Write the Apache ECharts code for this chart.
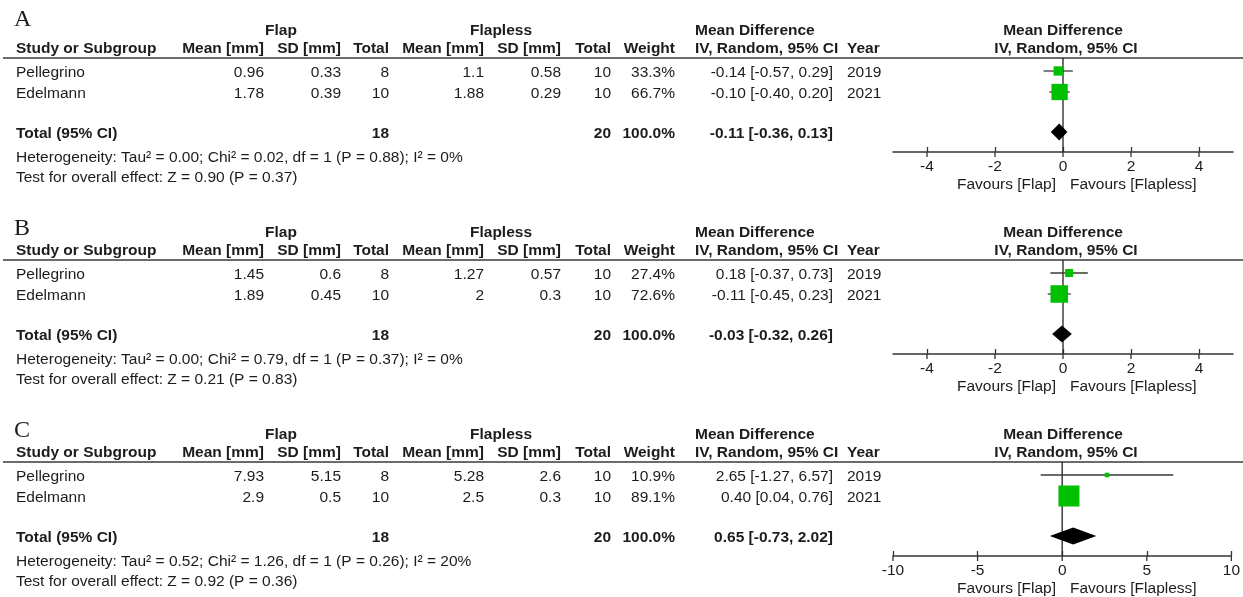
<!DOCTYPE html>
<html>
<head>
<meta charset="utf-8">
<script src="https://cdn.jsdelivr.net/npm/echarts@6/dist/echarts.min.js"></script>
<style>
  html, body { margin: 0; padding: 0; background: #fff; }
  #chart { width: 1243px; height: 597px; }
</style>
</head>
<body>
<div id="chart"></div>
<script>
// ---- Study data (three outcomes: A, B, C) ----
const studies = ['Pellegrino', 'Edelmann'];
const years = ['2019', '2021'];
const nFlap = [8, 10];
const nFlapless = [10, 10];

const meanFlapA = [0.96, 1.78];
const sdFlapA = [0.33, 0.39];
const meanFlaplessA = [1.1, 1.88];
const sdFlaplessA = [0.58, 0.29];
const weightA = [33.3, 66.7];
const mdA = [-0.14, -0.10];
const lowA = [-0.57, -0.40];
const highA = [0.29, 0.20];
const totalA = [-0.11, -0.36, 0.13];
const hetA = 'Heterogeneity: Tau² = 0.00; Chi² = 0.02, df = 1 (P = 0.88); I² = 0%';
const testA = 'Test for overall effect: Z = 0.90 (P = 0.37)';

const meanFlapB = [1.45, 1.89];
const sdFlapB = [0.6, 0.45];
const meanFlaplessB = [1.27, 2];
const sdFlaplessB = [0.57, 0.3];
const weightB = [27.4, 72.6];
const mdB = [0.18, -0.11];
const lowB = [-0.37, -0.45];
const highB = [0.73, 0.23];
const totalB = [-0.03, -0.32, 0.26];
const hetB = 'Heterogeneity: Tau² = 0.00; Chi² = 0.79, df = 1 (P = 0.37); I² = 0%';
const testB = 'Test for overall effect: Z = 0.21 (P = 0.83)';

const meanFlapC = [7.93, 2.9];
const sdFlapC = [5.15, 0.5];
const meanFlaplessC = [5.28, 2.5];
const sdFlaplessC = [2.6, 0.3];
const weightC = [10.9, 89.1];
const mdC = [2.65, 0.40];
const lowC = [-1.27, 0.04];
const highC = [6.57, 0.76];
const totalC = [0.65, -0.73, 2.02];
const hetC = 'Heterogeneity: Tau² = 0.52; Chi² = 1.26, df = 1 (P = 0.26); I² = 20%';
const testC = 'Test for overall effect: Z = 0.92 (P = 0.36)';

// Forest axis ranges and tick labels
const axisRangeA = [-5, 5];
const axisRangeB = [-5, 5];
const axisRangeC = [-10, 10];
const ticksA = [-4, -2, 0, 2, 4];
const ticksB = [-4, -2, 0, 2, 4];
const ticksC = [-10, -5, 0, 5, 10];

const panelLetters = ['A', 'B', 'C'];

const panels = [
  { meanFlap: meanFlapA, sdFlap: sdFlapA, meanFlapless: meanFlaplessA, sdFlapless: sdFlaplessA,
    weight: weightA, md: mdA, low: lowA, high: highA, total: totalA, het: hetA, test: testA,
    range: axisRangeA, ticks: ticksA },
  { meanFlap: meanFlapB, sdFlap: sdFlapB, meanFlapless: meanFlaplessB, sdFlapless: sdFlaplessB,
    weight: weightB, md: mdB, low: lowB, high: highB, total: totalB, het: hetB, test: testB,
    range: axisRangeB, ticks: ticksB },
  { meanFlap: meanFlapC, sdFlap: sdFlapC, meanFlapless: meanFlaplessC, sdFlapless: sdFlaplessC,
    weight: weightC, md: mdC, low: lowC, high: highC, total: totalC, het: hetC, test: testC,
    range: axisRangeC, ticks: ticksC }
];

// ---- Layout ----
const FONT = '"Liberation Sans", Arial, sans-serif';
const SERIF = '"Liberation Serif", "Times New Roman", serif';
const FS = 15.5;
const INK = '#1c1c1c';
const PANEL_STEP = 202;
const TEXT_DY = 1;          // baseline nudge for table text
const LETTER_Y = [20, 229, 431];

const col = {
  study: 16, flapMean: 264, flapSd: 341, flapN: 389,
  lessMean: 484, lessSd: 561, lessN: 611, weight: 675,
  ci: 833, year: 847, mdHead: 695, flapHead: 281, lessHead: 501
};
const plot = { left: 893, width: 340, zero: 1063 };
const ROW_PX = 21;          // vertical spacing between study rows
const GRID_TOP = 58;        // header rule
const GRID_H = 94;          // rule to forest axis
const FIRST_ROW_OFF = 13;   // first study row below the rule
const TOTAL_ROW = 2.905;    // pooled row, in row units
const Y_MIN = -FIRST_ROW_OFF / ROW_PX;
const Y_MAX = Y_MIN + GRID_H / ROW_PX;

function txt(x, y, s, o) {
  o = o || {};
  return {
    type: 'text', x: x, y: y + (o.noNudge ? 0 : TEXT_DY), silent: true,
    style: {
      text: s, fill: INK,
      fontFamily: o.family || FONT,
      fontSize: o.size || FS,
      fontWeight: o.bold ? 'bold' : 'normal',
      align: o.align || 'left',
      verticalAlign: 'middle'
    }
  };
}

const fmt2 = v => v.toFixed(2);
const ciText = (m, l, h) => fmt2(m) + ' [' + fmt2(l) + ', ' + fmt2(h) + ']';
const sum = a => a.reduce((s, v) => s + v, 0);

const graphics = [];
const grids = [], xAxes = [], yAxes = [], series = [];

panels.forEach((p, k) => {
  const off = k * PANEL_STEP;
  // panel letter
  graphics.push(txt(14, LETTER_Y[k], panelLetters[k], { family: SERIF, size: 24, noNudge: true }));
  // headers
  const h1 = 30 + off, h2 = 49 + off;
  const H2 = { bold: true, noNudge: true };
  graphics.push(txt(col.flapHead, h1, 'Flap', { bold: true, align: 'center' }));
  graphics.push(txt(col.lessHead, h1, 'Flapless', { bold: true, align: 'center' }));
  graphics.push(txt(col.mdHead, h1, 'Mean Difference', { bold: true }));
  graphics.push(txt(plot.zero, h1, 'Mean Difference', { bold: true, align: 'center' }));
  graphics.push(txt(col.study, h2, 'Study or Subgroup', H2));
  graphics.push(txt(col.flapMean, h2, 'Mean [mm]', Object.assign({ align: 'right' }, H2)));
  graphics.push(txt(col.flapSd, h2, 'SD [mm]', Object.assign({ align: 'right' }, H2)));
  graphics.push(txt(col.flapN, h2, 'Total', Object.assign({ align: 'right' }, H2)));
  graphics.push(txt(col.lessMean, h2, 'Mean [mm]', Object.assign({ align: 'right' }, H2)));
  graphics.push(txt(col.lessSd, h2, 'SD [mm]', Object.assign({ align: 'right' }, H2)));
  graphics.push(txt(col.lessN, h2, 'Total', Object.assign({ align: 'right' }, H2)));
  graphics.push(txt(col.weight, h2, 'Weight', Object.assign({ align: 'right' }, H2)));
  graphics.push(txt(col.mdHead, h2, 'IV, Random, 95% CI', H2));
  graphics.push(txt(col.year, h2, 'Year', H2));
  graphics.push(txt(plot.zero + 3, h2, 'IV, Random, 95% CI', Object.assign({ align: 'center' }, H2)));
  // header rule
  graphics.push({
    type: 'line', silent: true,
    shape: { x1: 3, y1: GRID_TOP + off, x2: 1243, y2: GRID_TOP + off },
    style: { stroke: '#3a3a3a', lineWidth: 1.6 }
  });
  // study rows
  studies.forEach((s, i) => {
    const y = 72 + off + i * ROW_PX;
    graphics.push(txt(col.study, y, s));
    graphics.push(txt(col.flapMean, y, String(p.meanFlap[i]), { align: 'right' }));
    graphics.push(txt(col.flapSd, y, String(p.sdFlap[i]), { align: 'right' }));
    graphics.push(txt(col.flapN, y, String(nFlap[i]), { align: 'right' }));
    graphics.push(txt(col.lessMean, y, String(p.meanFlapless[i]), { align: 'right' }));
    graphics.push(txt(col.lessSd, y, String(p.sdFlapless[i]), { align: 'right' }));
    graphics.push(txt(col.lessN, y, String(nFlapless[i]), { align: 'right' }));
    graphics.push(txt(col.weight, y, p.weight[i].toFixed(1) + '%', { align: 'right' }));
    graphics.push(txt(col.ci, y, ciText(p.md[i], p.low[i], p.high[i]), { align: 'right' }));
    graphics.push(txt(col.year, y, years[i]));
  });
  // pooled row
  const yt = 133 + off;
  graphics.push(txt(col.study, yt, 'Total (95% CI)', { bold: true }));
  graphics.push(txt(col.flapN, yt, String(sum(nFlap)), { bold: true, align: 'right' }));
  graphics.push(txt(col.lessN, yt, String(sum(nFlapless)), { bold: true, align: 'right' }));
  graphics.push(txt(col.weight, yt, sum(p.weight).toFixed(1) + '%', { bold: true, align: 'right' }));
  graphics.push(txt(col.ci, yt, ciText(p.total[0], p.total[1], p.total[2]), { bold: true, align: 'right' }));
  graphics.push(txt(col.study, 157 + off, p.het));
  graphics.push(txt(col.study, 177 + off, p.test));
  // favours labels
  graphics.push(txt(plot.zero - 7, 184 + off, 'Favours [Flap]', { align: 'right' }));
  graphics.push(txt(plot.zero + 7, 184 + off, 'Favours [Flapless]'));

  // ---- forest plot ----
  grids.push({ left: plot.left, width: plot.width, top: GRID_TOP + off, height: GRID_H });
  xAxes.push({
    gridIndex: k, type: 'value', min: p.range[0], max: p.range[1],
    position: 'bottom', splitLine: { show: false },
    axisLine: { show: true, onZero: false, lineStyle: { color: '#333', width: 1.5 } },
    axisTick: { show: true, inside: true, length: 5, customValues: p.ticks,
                lineStyle: { color: '#333', width: 1.3 } },
    axisLabel: { show: true, customValues: p.ticks, margin: 7, showMinLabel: true, showMaxLabel: true,
                 fontFamily: FONT, fontSize: FS, color: INK }
  });
  yAxes.push({ gridIndex: k, type: 'value', inverse: true, min: Y_MIN, max: Y_MAX, show: false });

  const xi = k, yi = k;
  // line of no effect
  series.push({
    type: 'line', xAxisIndex: xi, yAxisIndex: yi, silent: true, symbol: 'none',
    data: [[0, Y_MIN], [0, Y_MAX]],
    lineStyle: { color: '#222', width: 1.3 }, z: 1
  });
  // tick marks continuing below the axis line
  series.push({
    type: 'custom', xAxisIndex: xi, yAxisIndex: yi, silent: true, z: 1,
    data: p.ticks.map(t => [t, Y_MAX]),
    encode: { x: 0, y: 1 },
    renderItem: function (params, api) {
      const c = api.coord([api.value(0), api.value(1)]);
      return { type: 'line', shape: { x1: c[0], y1: c[1], x2: c[0], y2: c[1] + 5 },
               style: { stroke: '#333', lineWidth: 1.3 } };
    }
  });
  // confidence intervals
  series.push({
    type: 'custom', xAxisIndex: xi, yAxisIndex: yi, silent: true, z: 2,
    data: studies.map((s, i) => [p.low[i], p.high[i], i]),
    encode: { x: [0, 1], y: 2 },
    renderItem: function (params, api) {
      const a = api.coord([api.value(0), api.value(2)]);
      const b = api.coord([api.value(1), api.value(2)]);
      return { type: 'line', shape: { x1: a[0], y1: a[1], x2: b[0], y2: b[1] },
               style: { stroke: '#3a3a3a', lineWidth: 1.3 } };
    }
  });
  // study estimates, box size by weight
  series.push({
    type: 'scatter', xAxisIndex: xi, yAxisIndex: yi, silent: true, z: 3,
    symbol: 'rect',
    data: studies.map((s, i) => [p.md[i], i, p.weight[i]]),
    symbolSize: v => 2.3 + 0.21 * v[2],
    itemStyle: { color: '#00c000', opacity: 1 }
  });
  // pooled estimate diamond
  series.push({
    type: 'custom', xAxisIndex: xi, yAxisIndex: yi, silent: true, z: 3,
    data: [[p.total[0], p.total[1], p.total[2], TOTAL_ROW]],
    encode: { x: [0, 1, 2], y: 3 },
    renderItem: function (params, api) {
      const row = api.value(3);
      const c = api.coord([api.value(0), row]);
      const l = api.coord([api.value(1), row]);
      const r = api.coord([api.value(2), row]);
      const hh = 8.5;
      return { type: 'polygon',
               shape: { points: [[l[0], c[1]], [c[0], c[1] - hh], [r[0], c[1]], [c[0], c[1] + hh]] },
               style: { fill: '#000' } };
    }
  });
});

const chart = echarts.init(document.getElementById('chart'), null, { renderer: 'canvas' });
chart.setOption({
  animation: false,
  backgroundColor: '#fff',
  grid: grids,
  xAxis: xAxes,
  yAxis: yAxes,
  series: series,
  graphic: graphics
});
</script>
</body>
</html>
